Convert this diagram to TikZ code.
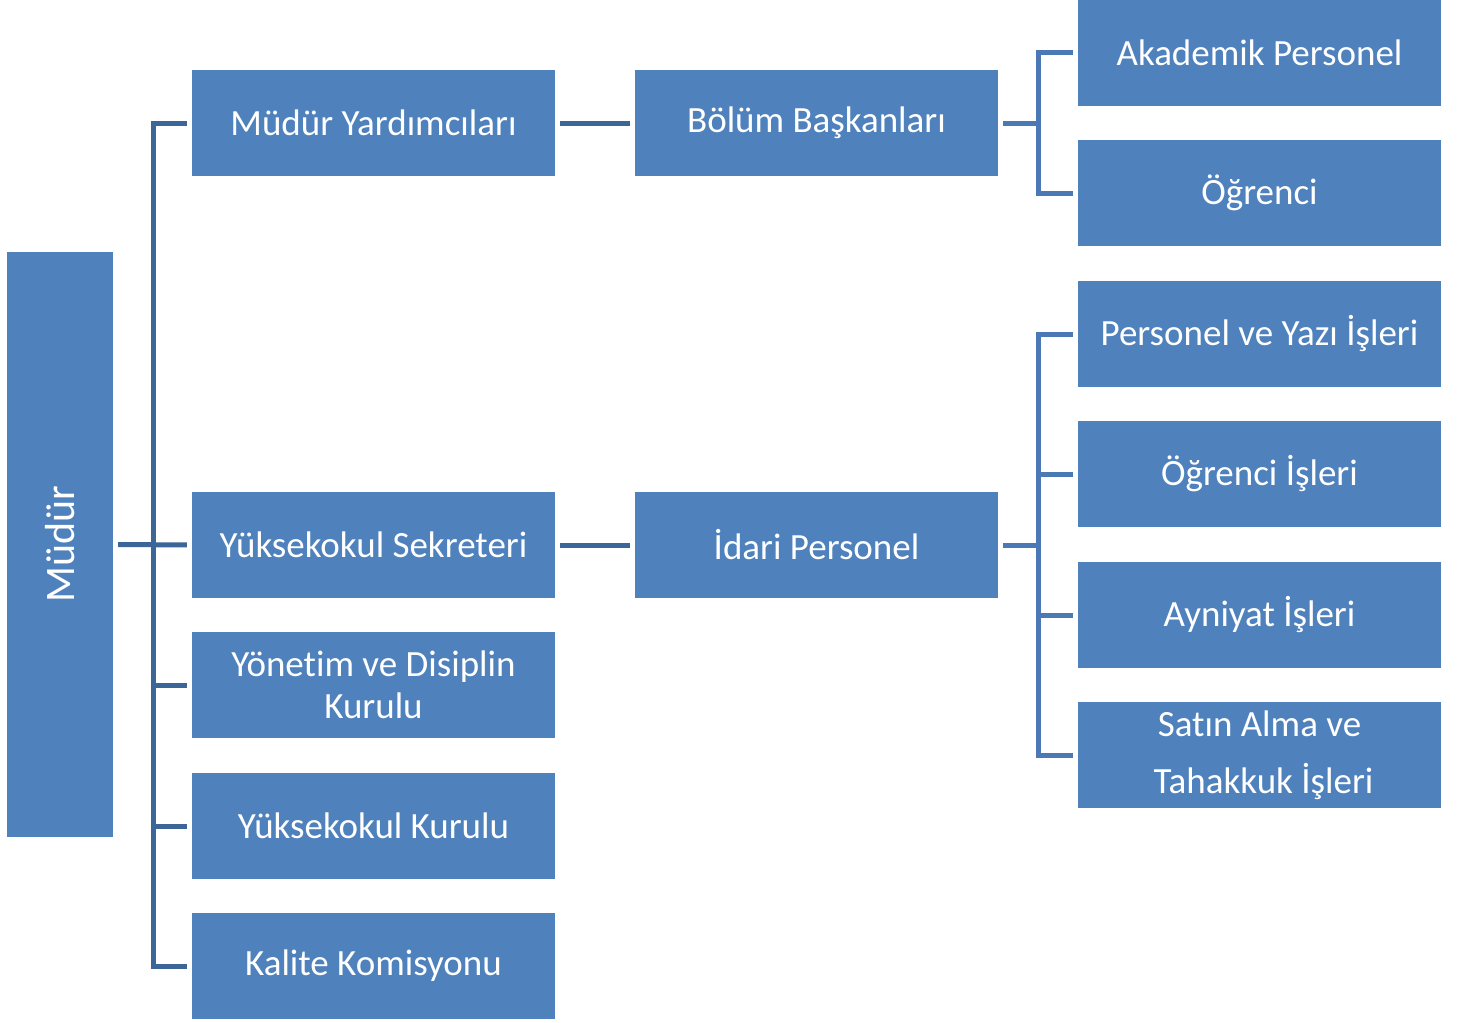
\documentclass[tikz,border=0pt]{standalone}
\usepackage{fontspec}
\setmainfont{Carlito}[Ligatures=NoCommon]
\usepackage{tikz}
\definecolor{boxblue}{HTML}{4F81BD}
\definecolor{linedark}{HTML}{3D6698}
\definecolor{linelight}{HTML}{4A79B5}
\tikzstyle{orgbox} = [fill=boxblue, text=white, rectangle, inner sep=0pt, minimum width=363pt, minimum height=106pt, align=center, font=\fontsize{37}{42}\selectfont]
\tikzstyle{leftline} = [draw=linedark, line width=5pt, shorten <=5pt, shorten >=5pt]
\tikzstyle{rightline} = [draw=linelight, line width=5pt, shorten <=5pt, shorten >=5pt]

\begin{document}
\begin{tikzpicture}[x=1pt,y=-1pt]
\useasboundingbox (0,0) rectangle (1465,1023);
% sol
\node [orgbox, minimum width=585pt, minimum height=106pt, rotate=90, font=\fontsize{42}{48}\selectfont] (mudur) at (60,544.5) {Müdür};
% ikinci sütun
\node [orgbox] (yard) at (373.5,123) {Müdür Yardımcıları};
\node [orgbox] (sekr) at (373.5,545) {Yüksekokul Sekreteri};
\node [orgbox] (yonet) at (373.5,685) {Yönetim ve Disiplin\\Kurulu};
\node [orgbox] (ykurul) at (373.5,826) {Yüksekokul Kurulu};
\node [orgbox] (kalite) at (373.5,966) {Kalite Komisyonu};
% üçüncü sütun
\node [orgbox] (bolum) at (816.5,123) {Bölüm Başkanları};
\node [orgbox] (idari) at (816.5,545) {İdari Personel};
% dördüncü sütun
\node [orgbox] (akad) at (1259.5,52.5) {Akademik Personel};
\node [orgbox] (ogr) at (1259.5,193) {Öğrenci};
\node [orgbox] (pyi) at (1259.5,334) {Personel ve Yazı İşleri};
\node [orgbox] (oi) at (1259.5,474) {Öğrenci İşleri};
\node [orgbox] (ai) at (1259.5,615) {Ayniyat İşleri};
\node [orgbox, font=\fontsize{37}{57}\selectfont] (sat) at (1259.5,755) {Satın Alma ve\\\hspace*{8pt}Tahakkuk İşleri};

\coordinate (lspine) at (153,545);
\coordinate (rspineA) at (1038,123);
\coordinate (rspineB) at (1038,545);

\draw [leftline] (mudur.south) -- (sekr.west);
\foreach \n in {yard,yonet,ykurul,kalite}
  \draw [leftline, shorten <=0pt] (lspine) |- (\n.west);
\draw [leftline] (yard.east) -- (bolum.west);
\draw [leftline] (sekr.east) -- (idari.west);
\foreach \n in {akad,ogr}
  \draw [rightline] (bolum.east) -- (rspineA) |- (\n.west);
\foreach \n in {pyi,oi,ai,sat}
  \draw [rightline] (idari.east) -- (rspineB) |- (\n.west);
\end{tikzpicture}
\end{document}
